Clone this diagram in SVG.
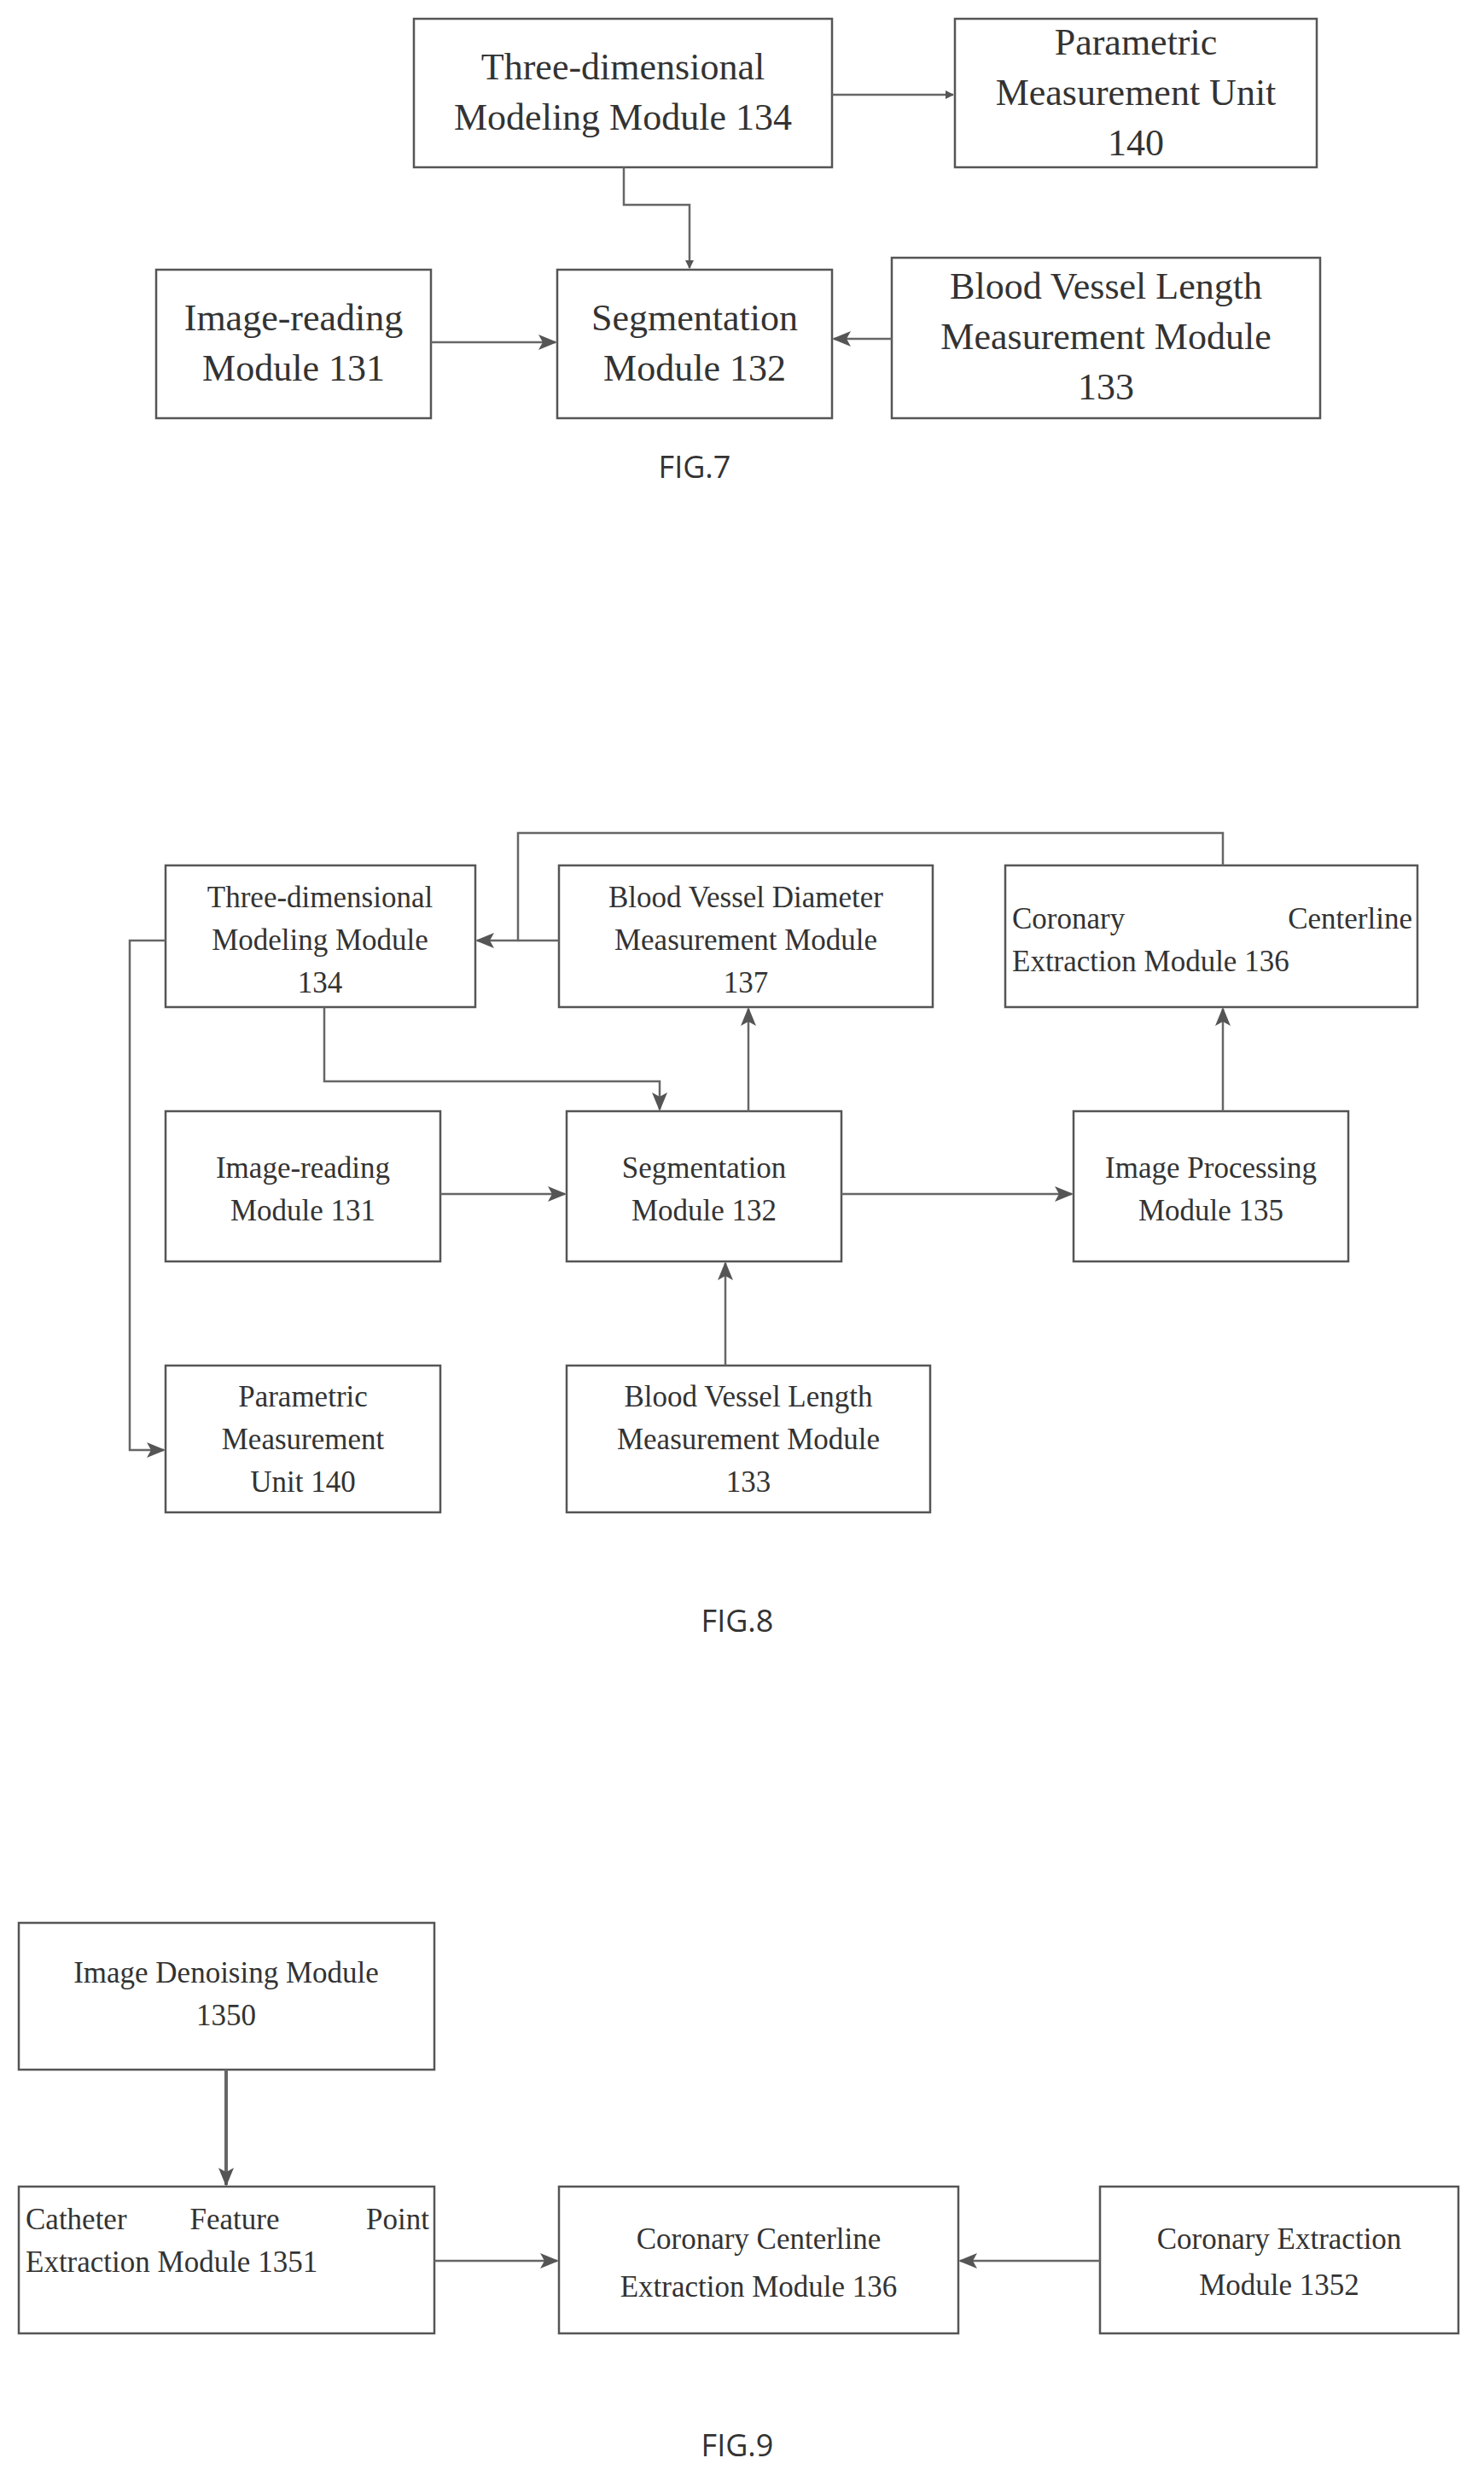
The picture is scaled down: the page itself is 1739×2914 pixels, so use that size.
<svg xmlns="http://www.w3.org/2000/svg" width="1739" height="2914" viewBox="0 0 1739 2914">
<style>
rect{fill:#fff;stroke:#555;stroke-width:2.5}
text{font-family:"Liberation Serif",serif;fill:#333;text-anchor:middle}
.b{font-size:44px}.m{font-size:35px}
.s{text-anchor:start}.e{text-anchor:end}
.c path{fill:none;stroke:#666;stroke-width:2.5}
.cap{font-family:"Open Sans","DejaVu Sans",sans-serif;font-size:36px}
</style>
<defs><marker id="a" markerWidth="10" markerHeight="10" refX="9" refY="5" orient="auto" markerUnits="userSpaceOnUse" viewBox="0 0 10 10"><path d="M0,0 L10,5 L0,10 z" fill="#555"/></marker>
<marker id="a2" markerWidth="22" markerHeight="22" refX="20" refY="11" orient="auto" markerUnits="userSpaceOnUse" viewBox="0 0 22 22"><path d="M0,2 L22,11 L0,20 L5,11 z" fill="#555"/></marker></defs>
<rect width="1739" height="2914" style="fill:#fff;stroke:none"/>
<!-- FIG7 -->
<g id="f7_3d"><rect x="485" y="22" width="490" height="174"/><text class="b" x="730" y="93">Three-dimensional</text><text class="b" x="730" y="152">Modeling Module 134</text></g>
<g id="f7_param"><rect x="1119" y="22" width="424" height="174"/><text class="b" x="1331" y="64">Parametric</text><text class="b" x="1331" y="123">Measurement Unit</text><text class="b" x="1331" y="182">140</text></g>
<g id="f7_img"><rect x="183" y="316" width="322" height="174"/><text class="b" x="344" y="387">Image-reading</text><text class="b" x="344" y="446">Module 131</text></g>
<g id="f7_seg"><rect x="653" y="316" width="322" height="174"/><text class="b" x="814" y="387">Segmentation</text><text class="b" x="814" y="446">Module 132</text></g>
<g id="f7_bvl"><rect x="1045" y="302" width="502" height="188"/><text class="b" x="1296" y="350">Blood Vessel Length</text><text class="b" x="1296" y="409">Measurement Module</text><text class="b" x="1296" y="468">133</text></g>
<text class="cap" x="814" y="560">FIG.7</text>
<!-- FIG8 -->
<g id="f8_3d"><rect x="194" y="1014" width="363" height="166"/><text class="m" x="375" y="1063">Three-dimensional</text><text class="m" x="375" y="1113">Modeling Module</text><text class="m" x="375" y="1163">134</text></g>
<g id="f8_bvd"><rect x="655" y="1014" width="438" height="166"/><text class="m" x="874" y="1063">Blood Vessel Diameter</text><text class="m" x="874" y="1113">Measurement Module</text><text class="m" x="874" y="1163">137</text></g>
<g id="f8_ccl"><rect x="1178" y="1014" width="483" height="166"/><text class="m s" x="1186" y="1088">Coronary</text><text class="m e" x="1655" y="1088">Centerline</text><text class="m s" x="1186" y="1138">Extraction Module 136</text></g>
<g id="f8_img"><rect x="194" y="1302" width="322" height="176"/><text class="m" x="355" y="1380">Image-reading</text><text class="m" x="355" y="1430">Module 131</text></g>
<g id="f8_seg"><rect x="664" y="1302" width="322" height="176"/><text class="m" x="825" y="1380">Segmentation</text><text class="m" x="825" y="1430">Module 132</text></g>
<g id="f8_ip"><rect x="1258" y="1302" width="322" height="176"/><text class="m" x="1419" y="1380">Image Processing</text><text class="m" x="1419" y="1430">Module 135</text></g>
<g id="f8_param"><rect x="194" y="1600" width="322" height="172"/><text class="m" x="355" y="1648">Parametric</text><text class="m" x="355" y="1698">Measurement</text><text class="m" x="355" y="1748">Unit 140</text></g>
<g id="f8_bvl"><rect x="664" y="1600" width="426" height="172"/><text class="m" x="877" y="1648">Blood Vessel Length</text><text class="m" x="877" y="1698">Measurement Module</text><text class="m" x="877" y="1748">133</text></g>
<text class="cap" x="864" y="1912">FIG.8</text>
<!-- FIG9 -->
<g id="f9_den"><rect x="22" y="2253" width="487" height="172"/><text class="m" x="265" y="2323">Image Denoising Module</text><text class="m" x="265" y="2373">1350</text></g>
<g id="f9_cat"><rect x="22" y="2562" width="487" height="172"/><text class="m s" x="30" y="2612">Catheter</text><text class="m" x="275" y="2612">Feature</text><text class="m e" x="503" y="2612">Point</text><text class="m s" x="30" y="2662">Extraction Module 1351</text></g>
<g id="f9_ccl"><rect x="655" y="2562" width="468" height="172"/><text class="m" x="889" y="2635">Coronary Centerline</text><text class="m" x="889" y="2691">Extraction Module 136</text></g>
<g id="f9_ext"><rect x="1289" y="2562" width="420" height="172"/><text class="m" x="1499" y="2635">Coronary Extraction</text><text class="m" x="1499" y="2689">Module 1352</text></g>
<text class="cap" x="864" y="2878">FIG.9</text>
<g class="c" id="connectors">
<path d="M975,111 H1117" marker-end="url(#a)"/>
<path d="M731,196 V240 H808 V314" marker-end="url(#a)"/>
<path d="M505,401 H651" marker-end="url(#a2)"/>
<path d="M1045,397 H977" marker-end="url(#a2)"/>
<path d="M1433,1014 V976 H607 V1102 H559" marker-end="url(#a2)"/>
<path d="M655,1102 H607"/>
<path d="M194,1102 H152 V1699 H192" marker-end="url(#a2)"/>
<path d="M380,1180 V1267 H773 V1300" marker-end="url(#a2)"/>
<path d="M877,1302 V1182" marker-end="url(#a2)"/>
<path d="M516,1399 H662" marker-end="url(#a2)"/>
<path d="M986,1399 H1256" marker-end="url(#a2)"/>
<path d="M1433,1302 V1182" marker-end="url(#a2)"/>
<path d="M850,1600 V1480" marker-end="url(#a2)"/>
<path d="M265,2425 V2560" style="stroke-width:4" marker-end="url(#a2)"/>
<path d="M509,2649 H653" marker-end="url(#a2)"/>
<path d="M1289,2649 H1125" marker-end="url(#a2)"/>
</g>
</svg>
